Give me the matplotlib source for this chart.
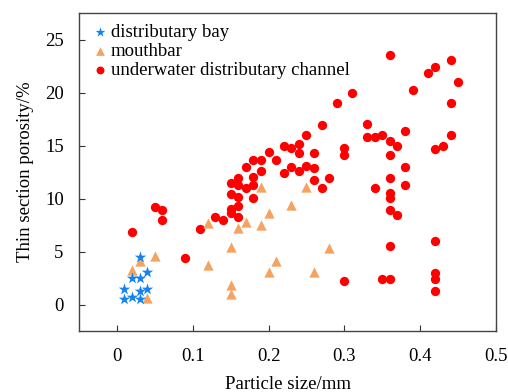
import matplotlib
matplotlib.use("Agg")
import matplotlib.pyplot as plt

plt.rcParams['font.family'] = ['Liberation Serif', 'DejaVu Serif']

# distributary bay
bay_x = [0.03, 0.04, 0.02, 0.03, 0.01, 0.04, 0.03, 0.01, 0.02, 0.03]
bay_y = [4.5, 3.1, 2.5, 2.5, 1.5, 1.5, 1.3, 0.5, 0.7, 0.5]

# mouthbar
bar_x = [0.19, 0.25, 0.23, 0.20, 0.17, 0.19, 0.12, 0.16, 0.15, 0.28,
         0.05, 0.03, 0.02, 0.12, 0.21, 0.20, 0.26, 0.15, 0.15, 0.04]
bar_y = [11.1, 11.1, 9.4, 8.6, 7.8, 7.5, 7.7, 7.2, 5.4, 5.3,
         4.6, 4.1, 3.3, 3.7, 4.1, 3.1, 3.1, 1.8, 1.0, 0.6]

# underwater distributary channel
ch_x = [0.36, 0.44, 0.42, 0.41, 0.45, 0.39, 0.31, 0.29, 0.44, 0.27,
        0.33, 0.38, 0.25, 0.33, 0.34, 0.35, 0.36, 0.37, 0.30, 0.30,
        0.36, 0.44, 0.43, 0.42, 0.22, 0.23, 0.24, 0.24, 0.20, 0.26,
        0.18, 0.19, 0.21, 0.17, 0.19, 0.22, 0.23, 0.24, 0.25, 0.26,
        0.26, 0.27, 0.28, 0.34, 0.36, 0.36, 0.36, 0.36, 0.37, 0.38,
        0.38, 0.16, 0.18, 0.15, 0.16, 0.17, 0.18, 0.15, 0.16, 0.18,
        0.05, 0.06, 0.06, 0.13, 0.14, 0.15, 0.15, 0.16, 0.16, 0.11,
        0.02, 0.09, 0.30, 0.35, 0.36, 0.36, 0.42, 0.42, 0.42, 0.42]
ch_y = [23.5, 23.1, 22.4, 21.8, 21.0, 20.25, 20.0, 19.0, 19.05, 16.9,
        17.0, 16.4, 16.0, 15.8, 15.8, 15.95, 15.45, 14.95, 14.8, 14.15,
        14.15, 15.95, 15.0, 14.65, 14.95, 14.8, 15.1, 14.3, 14.4, 14.3,
        13.65, 13.65, 13.65, 12.95, 12.6, 12.45, 12.95, 12.6, 13.05, 12.9,
        11.75, 11.0, 11.95, 10.95, 11.95, 10.55, 10.05, 8.95, 8.45, 12.95,
        11.25, 11.95, 12.0, 11.5, 11.3, 10.95, 11.25, 10.45, 10.1, 10.05,
        9.2, 8.95, 7.95, 8.25, 8.0, 9.05, 8.6, 9.25, 8.25, 7.1,
        6.8, 4.4, 2.25, 2.4, 2.4, 5.5, 5.95, 3.0, 2.4, 1.25]

fig = plt.figure(figsize=(5.08, 3.92), dpi=100)
ax = fig.add_axes([0.1555, 0.1556, 0.8209, 0.8112])

ax.scatter(bay_x, bay_y, marker='*', s=75, color='#1482F0', linewidths=0,
           label='distributary bay', zorder=3)
ax.scatter(bar_x, bar_y, marker='^', s=55, color='#F4A460', linewidths=0,
           label='mouthbar', zorder=2)
ax.scatter(ch_x, ch_y, marker='o', s=45, color='#FF0000', linewidths=0,
           label='underwater distributary channel', zorder=1)

ax.set_xlim(-0.05, 0.5)
ax.set_ylim(-2.5, 27.5)
ax.set_xticks([0, 0.1, 0.2, 0.3, 0.4, 0.5])
ax.set_xticklabels(['0', '0.1', '0.2', '0.3', '0.4', '0.5'])
ax.set_yticks([0, 5, 10, 15, 20, 25])
ax.tick_params(direction='in', labelsize=13.5, length=4, color='#333333')
ax.tick_params(axis='x', pad=12)
ax.tick_params(axis='y', pad=11)
for sp in ax.spines.values():
    sp.set_color('#444444')
    sp.set_linewidth(1.0)

ax.set_xlabel('Particle size/mm', fontsize=13.5, labelpad=8)
ax.set_ylabel('Thin section porosity/%', fontsize=13.5, labelpad=8)

ax.legend(loc='upper left', frameon=False, fontsize=13.5, handletextpad=0.1,
          borderaxespad=0.2, labelspacing=0.1, handlelength=1.0,
          markerscale=0.85)

fig.savefig('out.png', dpi=100)
